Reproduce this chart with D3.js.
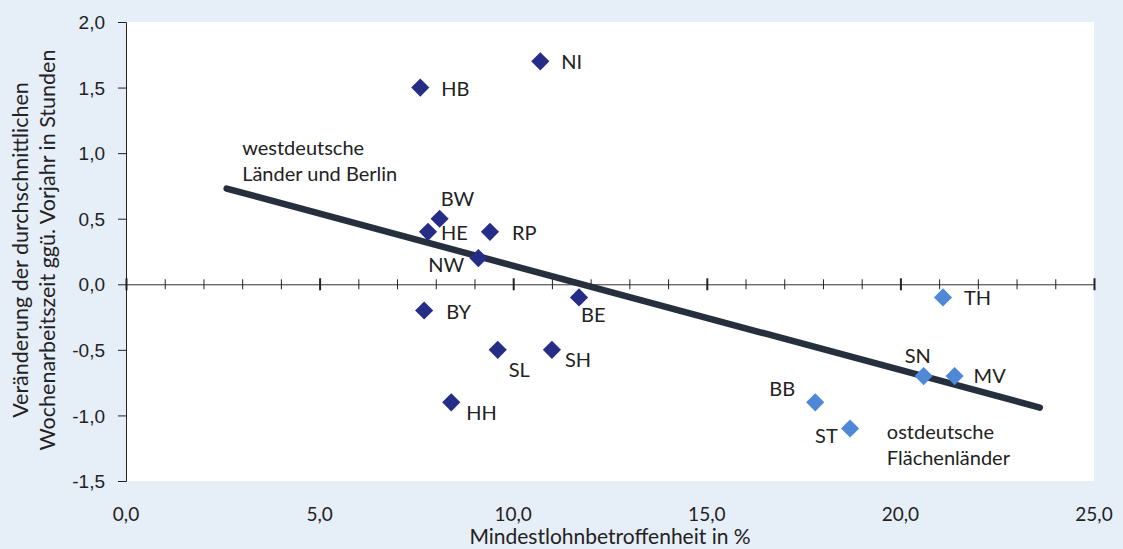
<!DOCTYPE html>
<html>
<head>
<meta charset="utf-8">
<script src="https://cdnjs.cloudflare.com/ajax/libs/d3/7.8.5/d3.min.js"></script>
<style>
  body { margin: 0; background: #e6eef8; }
  svg { display: block; font-family: Lato, "Noto Sans", sans-serif; }
  .tick-label { font-size: 19px; fill: #222; }
  .pt-label { font-size: 20px; fill: #222; }
  .note { font-size: 20px; fill: #222; }
</style>
</head>
<body>
<div id="chart"></div>
<script>
// state codes, minimum wage share (%) and change of weekly hours
var codes  = ["HB", "NI", "BW", "HE", "RP", "NW", "BY", "BE", "SL", "SH", "HH", "TH", "SN", "MV", "BB", "ST"];
var share  = [7.6, 10.7, 8.1, 7.8, 9.4, 9.1, 7.7, 11.7, 9.6, 11.0, 8.4, 21.1, 20.6, 21.4, 17.8, 18.7];
var change = [1.5, 1.7, 0.5, 0.4, 0.4, 0.2, -0.2, -0.1, -0.5, -0.5, -0.9, -0.1, -0.7, -0.7, -0.9, -1.1];
var group  = ["w", "w", "w", "w", "w", "w", "w", "w", "w", "w", "w", "o", "o", "o", "o", "o"];

// regression line end points
var trendX = [2.6, 23.6];
var trendY = [0.73, -0.94];

var xTicks = [0, 5, 10, 15, 20, 25];
var yTicks = [2.0, 1.5, 1.0, 0.5, 0.0, -0.5, -1.0, -1.5];

var W = 1123, H = 549;
var margin = {top: 22, right: 29, bottom: 68, left: 126};

var svg = d3.select("#chart").append("svg")
  .attr("width", W)
  .attr("height", H);

svg.append("rect").attr("width", W).attr("height", H).attr("fill", "#e6eef8");

var x = d3.scaleLinear().domain([0, 25]).range([margin.left, W - margin.right]);
var y = d3.scaleLinear().domain([-1.5, 2.0]).range([H - margin.bottom, margin.top]);

//white plot area
svg.append("rect")
  .attr("x", x(0)).attr("y", y(2))
  .attr("width", x(25) - x(0)).attr("height", y(-1.5) - y(2))
  .attr("fill", "white");

var fmt = function(v) { return d3.format(".1f")(v).replace(".", ",").replace("−", "-"); };

// y axis
var yAxis = svg.append("g")
  .attr("transform", "translate(" + x(0) + ",0)")
  .call(d3.axisLeft(y).tickValues(yTicks).tickSize(8).tickFormat(fmt));
yAxis.select(".domain").attr("stroke", "#222");
yAxis.selectAll(".tick line").attr("stroke", "#222");
yAxis.selectAll(".tick text").attr("class", "tick-label").attr("x", -21).attr("dy", "0.35em")
  .style("font-size", "19px").attr("fill", "#222").attr("font-family", null);

// x axis sits on the zero line, labels go below the plot
var xAxis = svg.append("g")
  .attr("transform", "translate(0," + y(0) + ")")
  .call(d3.axisBottom(x).tickValues(d3.range(0, 26, 1)).tickSize(0).tickFormat(""));
xAxis.select(".domain").attr("stroke", "#333");
xAxis.selectAll(".tick").each(function(d) {
  var major = d % 5 === 0;
  d3.select(this).select("line")
    .attr("y1", major ? -6 : -5).attr("y2", major ? 6 : 5)
    .attr("stroke", "#222")
    .attr("stroke-width", major ? 2 : 1);
});

svg.append("g").selectAll("text")
  .data(xTicks)
  .join("text")
  .attr("class", "tick-label")
  .attr("x", function(d) { return x(d); })
  .attr("y", 521)
  .attr("text-anchor", "middle")
  .text(fmt);

svg.append("text")
  .attr("class", "tick-label")
  .attr("x", x(12.5))
  .attr("y", 544)
  .attr("text-anchor", "middle")
  .style("font-size", "21px")
  .text("Mindestlohnbetroffenheit in %");

// y title
var yTitle = svg.append("text")
  .attr("transform", "translate(28," + 250 + ") rotate(-90)")
  .attr("text-anchor", "middle")
  .style("font-size", "21.5px")
  .attr("fill", "#222");
yTitle.append("tspan").attr("x", 0).attr("y", 0).text("Veränderung der durchschnittlichen");
yTitle.append("tspan").attr("x", 0).attr("y", 27).text("Wochenarbeitszeit ggü. Vorjahr in Stunden");

// trend line
svg.append("line")
  .attr("x1", x(trendX[0])).attr("y1", y(trendY[0]))
  .attr("x2", x(trendX[1])).attr("y2", y(trendY[1]))
  .attr("stroke", "#262f3d")
  .attr("stroke-width", 6.5)
  .attr("stroke-linecap", "round");

var data = codes.map(function(c, i) {
  return {code: c, x: share[i], y: change[i], g: group[i]};
});

// diamonds
var diamond = d3.symbol().type(d3.symbolSquare).size(165);
svg.append("g").selectAll("path")
  .data(data)
  .join("path")
  .attr("d", diamond)
  .attr("transform", function(d) { return "translate(" + x(d.x) + "," + y(d.y) + ") rotate(45)"; })
  .attr("fill", function(d) { return d.g === "w" ? "#262d86" : "#4f88d6"; });

// label offsets relative to the marker (px)
var labelOffset = {
  HB: [21, 8], NI: [21, 8], BW: [1, -13], HE: [13, 8], RP: [22, 8], NW: [-50, 14],
  BY: [22, 8], BE: [2, 25], SL: [11, 27], SH: [13, 17], HH: [15, 18],
  TH: [21, 8], SN: [-19, -13], MV: [19, 7], BB: [-46, -6], ST: [-35, 14]
};

svg.append("g").selectAll("text")
  .data(data)
  .join("text")
  .attr("class", "pt-label")
  .attr("x", function(d) { return x(d.x) + labelOffset[d.code][0]; })
  .attr("y", function(d) { return y(d.y) + labelOffset[d.code][1]; })
  .text(function(d) { return d.code; });

// group notes, anchored at the first baseline
var notes = [
  {lines: ["westdeutsche", "Länder und Berlin"], at: [3.0, 0.984]},
  {lines: ["ostdeutsche", "Flächenländer"], at: [19.65, -1.182]}
];
notes.forEach(function(n) {
  var t = svg.append("text").attr("class", "note");
  n.lines.forEach(function(l, i) {
    t.append("tspan").attr("x", x(n.at[0])).attr("y", y(n.at[1]) + i * 26).text(l);
  });
});
</script>
</body>
</html>
